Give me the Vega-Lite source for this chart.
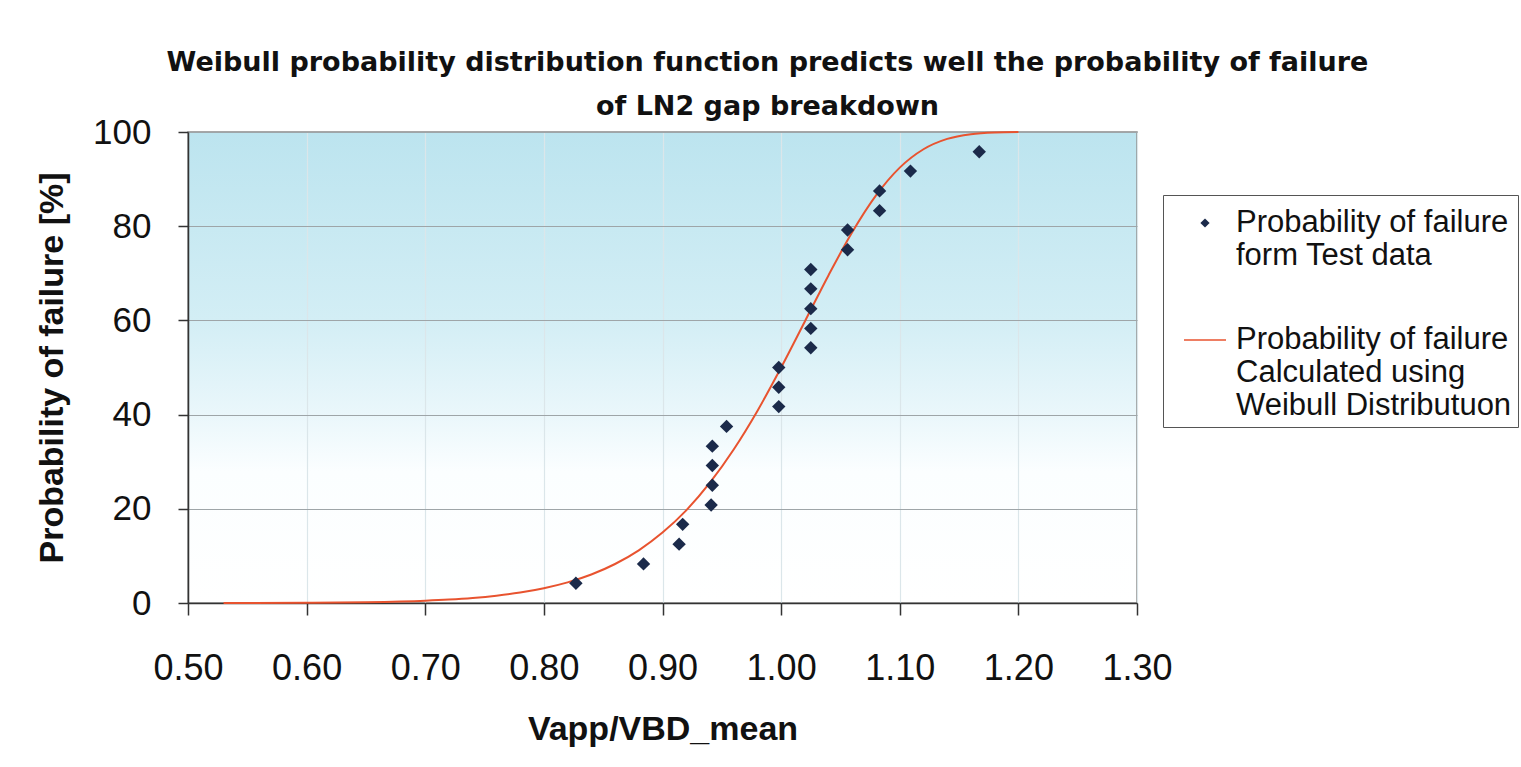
{
  "$schema": "https://vega.github.io/schema/vega-lite/v6.json",
  "autosize": {"type": "none"},
  "width": 949,
  "height": 471,
  "padding": {"left": 188, "top": 132, "right": 384, "bottom": 164},
  "background": "white",
  "title": {
    "text": ["Weibull probability distribution function predicts well the probability of failure", "of LN2 gap breakdown"],
    "font": "DejaVu Sans",
    "fontWeight": "bold",
    "fontSize": 27,
    "lineHeight": 44,
    "anchor": "middle",
    "dx": 105,
    "offset": -6,
    "color": "#111111"
  },
  "datasets": {
    "test": [
      {"v": 0.827, "p": 4.2, "series": "Probability of failure form Test data"},
      {"v": 0.884, "p": 8.3, "series": "Probability of failure form Test data"},
      {"v": 0.914, "p": 12.5, "series": "Probability of failure form Test data"},
      {"v": 0.917, "p": 16.7, "series": "Probability of failure form Test data"},
      {"v": 0.941, "p": 20.8, "series": "Probability of failure form Test data"},
      {"v": 0.942, "p": 25.0, "series": "Probability of failure form Test data"},
      {"v": 0.942, "p": 29.2, "series": "Probability of failure form Test data"},
      {"v": 0.942, "p": 33.3, "series": "Probability of failure form Test data"},
      {"v": 0.954, "p": 37.5, "series": "Probability of failure form Test data"},
      {"v": 0.998, "p": 41.7, "series": "Probability of failure form Test data"},
      {"v": 0.998, "p": 45.8, "series": "Probability of failure form Test data"},
      {"v": 0.998, "p": 50.0, "series": "Probability of failure form Test data"},
      {"v": 1.025, "p": 54.2, "series": "Probability of failure form Test data"},
      {"v": 1.025, "p": 58.3, "series": "Probability of failure form Test data"},
      {"v": 1.025, "p": 62.5, "series": "Probability of failure form Test data"},
      {"v": 1.025, "p": 66.7, "series": "Probability of failure form Test data"},
      {"v": 1.025, "p": 70.8, "series": "Probability of failure form Test data"},
      {"v": 1.056, "p": 75.0, "series": "Probability of failure form Test data"},
      {"v": 1.056, "p": 79.2, "series": "Probability of failure form Test data"},
      {"v": 1.083, "p": 83.3, "series": "Probability of failure form Test data"},
      {"v": 1.083, "p": 87.5, "series": "Probability of failure form Test data"},
      {"v": 1.109, "p": 91.7, "series": "Probability of failure form Test data"},
      {"v": 1.167, "p": 95.8, "series": "Probability of failure form Test data"}
    ],
    "weibull": [
      {"v": 0.53, "p": 0.01},
      {"v": 0.55, "p": 0.02},
      {"v": 0.60, "p": 0.06},
      {"v": 0.65, "p": 0.18},
      {"v": 0.70, "p": 0.50},
      {"v": 0.72, "p": 0.74},
      {"v": 0.74, "p": 1.08},
      {"v": 0.76, "p": 1.56},
      {"v": 0.78, "p": 2.22},
      {"v": 0.80, "p": 3.14},
      {"v": 0.82, "p": 4.38},
      {"v": 0.84, "p": 6.05},
      {"v": 0.86, "p": 8.28},
      {"v": 0.88, "p": 11.19},
      {"v": 0.90, "p": 14.95},
      {"v": 0.92, "p": 19.67},
      {"v": 0.94, "p": 25.55},
      {"v": 0.96, "p": 32.60},
      {"v": 0.98, "p": 40.79},
      {"v": 1.00, "p": 50.00},
      {"v": 1.02, "p": 59.78},
      {"v": 1.04, "p": 69.60},
      {"v": 1.06, "p": 78.75},
      {"v": 1.08, "p": 86.53},
      {"v": 1.10, "p": 92.44},
      {"v": 1.12, "p": 96.34},
      {"v": 1.14, "p": 98.54},
      {"v": 1.16, "p": 99.54},
      {"v": 1.18, "p": 99.89},
      {"v": 1.20, "p": 99.98}
    ]
  },
  "encoding": {
    "x": {
      "field": "v",
      "type": "quantitative",
      "scale": {"domain": [0.5, 1.3], "nice": false, "zero": false},
      "axis": {
        "title": "Vapp/VBD_mean",
        "values": [0.5, 0.6, 0.7, 0.8, 0.9, 1.0, 1.1, 1.2, 1.3],
        "format": ".2f",
        "labelFontSize": 36,
        "labelPadding": 36,
        "tickSize": 12,
        "grid": true,
        "gridColor": "#dbe6ea",
        "titlePadding": 26
      }
    },
    "y": {
      "field": "p",
      "type": "quantitative",
      "scale": {"domain": [0, 100], "nice": false},
      "axis": {
        "title": "Probability of failure [%]",
        "values": [0, 20, 40, 60, 80, 100],
        "labelFontSize": 35,
        "labelPadding": 27,
        "tickSize": 10,
        "grid": true,
        "gridColor": "#9ea5a8",
        "titlePadding": 23
      }
    }
  },
  "layer": [
    {
      "data": {"name": "weibull"},
      "mark": {"type": "line", "color": "#e8532f", "strokeWidth": 2, "interpolate": "monotone"}
    },
    {
      "data": {"name": "test"},
      "mark": {"type": "point", "filled": true, "size": 3700, "opacity": 1},
      "encoding": {
        "shape": {
          "field": "series",
          "type": "nominal",
          "scale": {
            "domain": ["Probability of failure form Test data", "Probability of failure Calculated using Weibull Distributuon"],
            "range": ["M-0.22,0L0,-0.22L0.22,0L0,0.22Z", "M-1,-0.035L1,-0.035L1,0.035L-1,0.035Z"]
          },
          "legend": {
            "title": null,
            "orient": "none",
            "legendX": 975,
            "legendY": 63,
            "strokeColor": "#555555",
            "fillColor": "white",
            "padding": 6,
            "labelFont": "Liberation Sans",
            "labelFontSize": 31,
            "labelLimit": 500,
            "labelColor": "#111111",
            "labelOffset": 9,
            "symbolSize": 1764,
            "symbolOffset": 14,
            "rowPadding": 47,
            "labelExpr": "indexof(datum.value, 'Weibull') >= 0 ? ['Probability of failure', 'Calculated using', 'Weibull Distributuon'] : ['Probability of failure', 'form Test data']"
          }
        },
        "color": {
          "field": "series",
          "type": "nominal",
          "scale": {
            "domain": ["Probability of failure form Test data", "Probability of failure Calculated using Weibull Distributuon"],
            "range": ["#1b2a4a", "#e8532f"]
          },
          "legend": {
            "title": null,
            "orient": "none",
            "legendX": 975,
            "legendY": 63,
            "strokeColor": "#555555",
            "fillColor": "white",
            "padding": 6,
            "labelFont": "Liberation Sans",
            "labelFontSize": 31,
            "labelLimit": 500,
            "labelColor": "#111111",
            "labelOffset": 9,
            "symbolSize": 1764,
            "symbolOffset": 14,
            "rowPadding": 47,
            "labelExpr": "indexof(datum.value, 'Weibull') >= 0 ? ['Probability of failure', 'Calculated using', 'Weibull Distributuon'] : ['Probability of failure', 'form Test data']"
          }
        }
      }
    }
  ],
  "config": {
    "font": "Liberation Sans",
    "view": {
      "stroke": "#8a8a8a",
      "strokeWidth": 1.5,
      "fill": {
        "gradient": "linear",
        "x1": 0, "y1": 0, "x2": 0, "y2": 1,
        "stops": [
          {"offset": 0, "color": "#bce4ef"},
          {"offset": 0.4, "color": "#d3eef5"},
          {"offset": 0.6, "color": "#eaf7fb"},
          {"offset": 0.72, "color": "#fbfeff"},
          {"offset": 1, "color": "#ffffff"}
        ]
      }
    },
    "axis": {
      "labelFont": "Liberation Sans",
      "labelColor": "#111111",
      "titleFont": "Liberation Sans",
      "titleFontSize": 34,
      "titleFontWeight": "bold",
      "titleColor": "#111111",
      "domainColor": "#333333",
      "domainWidth": 1.5,
      "tickColor": "#333333",
      "tickWidth": 1.5,
      "gridWidth": 1.2,
      "labelFlush": false,
      "labelOverlap": false
    }
  }
}
